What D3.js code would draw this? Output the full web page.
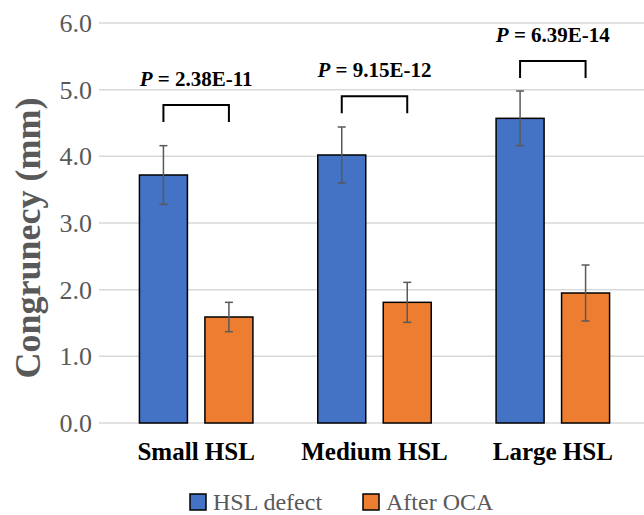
<!DOCTYPE html>
<html>
<head>
<meta charset="utf-8">
<script src="https://cdn.jsdelivr.net/npm/d3@7"></script>
<style>
  body { margin: 0; background: #fff; }
  svg text { font-family: "Liberation Serif", "Times New Roman", Times, "DejaVu Serif", serif; }
  .grid line { stroke: #d9d9d9; stroke-width: 1.5; }
  .tick-label { fill: #595959; font-size: 26px; }
  .cat { font-size: 25px; font-weight: bold; fill: #000; }
  .title { font-size: 36px; font-weight: bold; fill: #595959; }
  .pval { font-size: 21px; font-weight: bold; fill: #000; }
  .err { stroke: #595959; stroke-width: 1.5; }
  .bracket { fill: none; stroke: #000; stroke-width: 2; }
  .legend text { font-size: 24px; fill: #595959; }
</style>
</head>
<body>
<svg width="644" height="515"></svg>
<script>
const categories = ["Small HSL", "Medium HSL", "Large HSL"];
const series = ["HSL defect", "After OCA"];
const colors = ["#4472c4", "#ed7d31"];
const hslDefect = [3.72, 4.02, 4.57];
const hslDefectErr = [0.44, 0.42, 0.41];
const afterOca = [1.59, 1.81, 1.95];
const afterOcaErr = [0.22, 0.3, 0.42];
const pValues = ["2.38E-11", "9.15E-12", "6.39E-14"];
const bracketY = [4.77, 4.9, 5.43];
const yTicks = [0, 1, 2, 3, 4, 5, 6];

const svg = d3.select("svg");

const y = d3.scaleLinear().domain([0, 6]).range([423, 23]);

const x0 = d3
  .scaleBand()
  .domain(categories)
  .range([107, 642]);

const x1 = d3
  .scaleBand()
  .domain(series)
  .range([0, x0.bandwidth()])
  .paddingInner(0.267)
  .paddingOuter(0.495);

const rows = categories.map((c, i) => ({
  cat: c,
  values: [
    { s: series[0], v: hslDefect[i], e: hslDefectErr[i], color: colors[0] },
    { s: series[1], v: afterOca[i], e: afterOcaErr[i], color: colors[1] }
  ],
  p: pValues[i],
  b: bracketY[i]
}));

// gridlines
const grid = svg.append("g").attr("class", "grid");
grid
  .selectAll("line")
  .data(yTicks)
  .enter()
  .append("line")
  .attr("x1", 99)
  .attr("x2", 644)
  .attr("y1", d => y(d))
  .attr("y2", d => y(d));

svg
  .selectAll("text.tick-label")
  .data(yTicks)
  .enter()
  .append("text")
  .attr("class", "tick-label")
  .attr("x", 92)
  .attr("y", d => y(d))
  .attr("dy", "0.34em")
  .style("text-anchor", "end")
  .text(d => d.toFixed(1));

// axis title
svg
  .append("text")
  .attr("class", "title")
  .attr("transform", "translate(40, 238) rotate(-90)")
  .style("text-anchor", "middle")
  .text("Congrunecy (mm)");

const groups = svg
  .selectAll("g.group")
  .data(rows)
  .enter()
  .append("g")
  .attr("class", "group")
  .attr("transform", d => `translate(${x0(d.cat)}, 0)`);

groups
  .selectAll("rect")
  .data(d => d.values)
  .enter()
  .append("rect")
  .attr("x", d => x1(d.s))
  .attr("y", d => y(d.v))
  .attr("width", x1.bandwidth())
  .attr("height", d => y(0) - y(d.v))
  .attr("fill", d => d.color)
  .attr("stroke", "#000")
  .attr("stroke-width", 1.5);

const errG = groups
  .selectAll("g.errbar")
  .data(d => d.values)
  .enter()
  .append("g")
  .attr("class", "errbar");

errG
  .append("line")
  .attr("class", "err")
  .attr("x1", d => x1(d.s) + x1.bandwidth() / 2)
  .attr("x2", d => x1(d.s) + x1.bandwidth() / 2)
  .attr("y1", d => y(d.v + d.e))
  .attr("y2", d => y(d.v - d.e));

[1, -1].forEach(sign => {
  errG
    .append("line")
    .attr("class", "err")
    .attr("x1", d => x1(d.s) + x1.bandwidth() / 2 - 4)
    .attr("x2", d => x1(d.s) + x1.bandwidth() / 2 + 4)
    .attr("y1", d => y(d.v + sign * d.e))
    .attr("y2", d => y(d.v + sign * d.e));
});

// significance brackets
groups
  .append("path")
  .attr("class", "bracket")
  .attr("d", d => {
    const a = x1(series[0]) + x1.bandwidth() / 2;
    const b = x1(series[1]) + x1.bandwidth() / 2;
    const top = y(d.b);
    return `M${a},${top + 17}V${top}H${b}V${top + 17}`;
  });

const pText = groups
  .append("text")
  .attr("class", "pval")
  .attr("x", x0.bandwidth() / 2)
  .attr("y", d => y(d.b) - 19)
  .style("text-anchor", "middle");

pText.append("tspan").style("font-style", "italic").text("P");
pText.append("tspan").text(d => " = " + d.p);

// category labels
groups
  .append("text")
  .attr("class", "cat")
  .attr("x", x0.bandwidth() / 2)
  .attr("y", 460)
  .style("text-anchor", "middle")
  .text(d => d.cat);

// legend
const legend = svg.append("g").attr("class", "legend");
const legendX = [190, 363];
const items = legend
  .selectAll("g")
  .data(series)
  .enter()
  .append("g")
  .attr("transform", (d, i) => `translate(${legendX[i]}, 494)`);

items
  .append("rect")
  .attr("width", 16)
  .attr("height", 16)
  .attr("fill", (d, i) => colors[i])
  .attr("stroke", "#000")
  .attr("stroke-width", 1.5);

items
  .append("text")
  .attr("x", 23)
  .attr("y", 16)
  .text(d => d);
</script>
</body>
</html>
